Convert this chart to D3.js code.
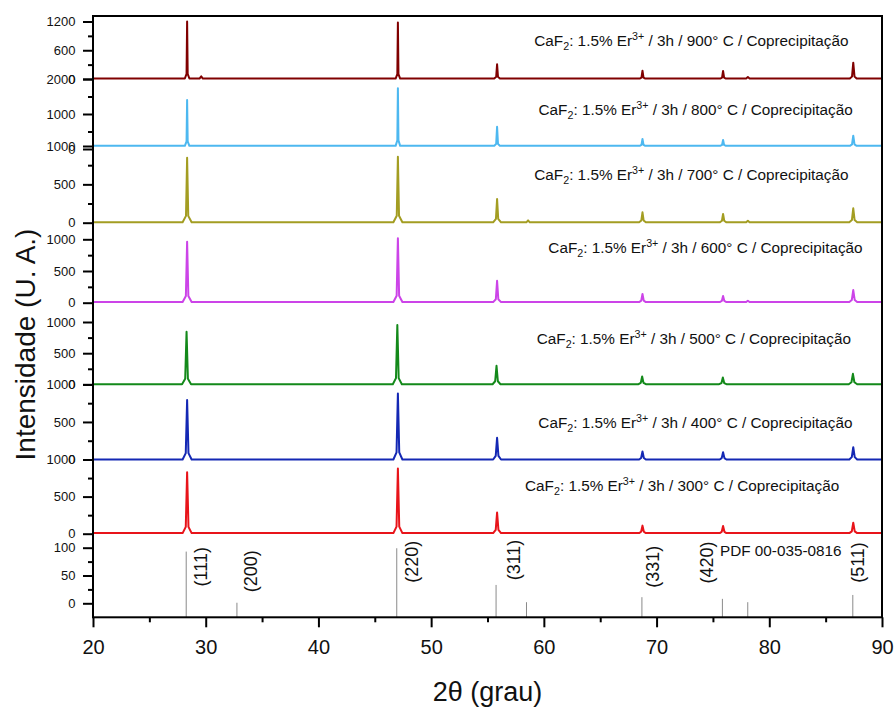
<!DOCTYPE html>
<html>
<head>
<meta charset="utf-8">
<script src="https://cdn.jsdelivr.net/npm/d3@7"></script>
<style>
  html, body { margin: 0; padding: 0; background: #fff; }
  svg { display: block; font-family: "Liberation Sans", Arial, Helvetica, sans-serif; }
</style>
</head>
<body>
<svg id="chart" width="895" height="707"></svg>
<script>
// ---------------------------------------------------------------------------
// Data: XRD patterns of CaF2:1.5% Er3+ (3 h, coprecipitation) calcined at
// different temperatures. Each pattern is a list of [2θ (deg), counts].
// ---------------------------------------------------------------------------
const temperatures = ["900", "800", "700", "600", "500", "400", "300"];

const pattern900 = [
  [20, 10],
  [28.15, 10], [28.30, 105], [28.35, 1198], [28.40, 105], [28.55, 10],
  [29.45, 10], [29.60, 55], [29.75, 10],
  [46.85, 10], [47.00, 103], [47.05, 1177], [47.10, 103], [47.25, 10],
  [55.60, 10], [55.77, 45], [55.85, 307], [55.93, 45], [56.10, 10],
  [68.50, 10], [68.66, 30], [68.75, 173], [68.84, 30], [69.00, 10],
  [75.65, 10], [75.81, 30], [75.90, 167], [75.99, 30], [76.15, 10],
  [77.95, 10], [78.10, 40], [78.25, 10],
  [87.15, 10], [87.34, 50], [87.45, 341], [87.56, 50], [87.75, 10],
  [90, 10]
];

const pattern800 = [
  [20, 90],
  [28.15, 90], [28.30, 220], [28.35, 1400], [28.40, 220], [28.55, 90],
  [46.85, 90], [47.00, 250], [47.05, 1734], [47.10, 250], [47.25, 90],
  [55.60, 90], [55.77, 150], [55.85, 637], [55.93, 150], [56.10, 90],
  [68.50, 90], [68.66, 120], [68.75, 286], [68.84, 120], [69.00, 90],
  [75.65, 90], [75.81, 115], [75.90, 257], [75.99, 115], [76.15, 90],
  [87.15, 90], [87.34, 130], [87.45, 380], [87.56, 130], [87.75, 90],
  [90, 90]
];

const pattern700 = [
  [20, 5],
  [27.95, 5], [28.25, 89], [28.35, 847], [28.45, 89], [28.75, 5],
  [46.65, 5], [46.95, 90], [47.05, 860], [47.15, 90], [47.45, 5],
  [55.50, 5], [55.75, 50], [55.85, 309], [55.95, 50], [56.20, 5],
  [58.45, 5], [58.60, 30], [58.75, 5],
  [68.45, 5], [68.65, 30], [68.75, 136], [68.85, 30], [69.05, 5],
  [75.60, 5], [75.80, 25], [75.90, 113], [76.00, 25], [76.20, 5],
  [77.95, 5], [78.10, 25], [78.25, 5],
  [87.10, 5], [87.33, 35], [87.45, 188], [87.57, 35], [87.80, 5],
  [90, 5]
];

const pattern600 = [
  [20, 10],
  [27.95, 10], [28.24, 105], [28.35, 962], [28.46, 105], [28.75, 10],
  [46.65, 10], [46.94, 110], [47.05, 1016], [47.16, 110], [47.45, 10],
  [55.50, 10], [55.74, 55], [55.85, 347], [55.96, 55], [56.20, 10],
  [68.45, 10], [68.64, 32], [68.75, 137], [68.86, 32], [69.05, 10],
  [75.60, 10], [75.79, 28], [75.90, 106], [76.01, 28], [76.20, 10],
  [77.95, 10], [78.10, 30], [78.25, 10],
  [87.10, 10], [87.32, 42], [87.45, 200], [87.58, 42], [87.80, 10],
  [90, 10]
];

const pattern500 = [
  [20, 3],
  [27.90, 3], [28.18, 90], [28.30, 845], [28.42, 90], [28.70, 3],
  [46.60, 3], [46.88, 100], [47.00, 952], [47.12, 100], [47.40, 3],
  [55.45, 3], [55.68, 50], [55.80, 297], [55.92, 50], [56.15, 3],
  [68.40, 3], [68.60, 25], [68.72, 126], [68.84, 25], [69.05, 3],
  [75.55, 3], [75.76, 22], [75.88, 110], [76.00, 22], [76.20, 3],
  [87.05, 3], [87.29, 35], [87.42, 169], [87.55, 35], [87.80, 3],
  [90, 3]
];

const pattern400 = [
  [20, 0],
  [27.95, 0], [28.23, 85], [28.35, 792], [28.47, 85], [28.75, 0],
  [46.65, 0], [46.93, 95], [47.05, 879], [47.17, 95], [47.45, 0],
  [55.50, 0], [55.73, 48], [55.85, 288], [55.97, 48], [56.20, 0],
  [68.45, 0], [68.63, 20], [68.75, 106], [68.87, 20], [69.05, 0],
  [75.60, 0], [75.78, 18], [75.90, 97], [76.02, 18], [76.20, 0],
  [87.10, 0], [87.32, 32], [87.45, 163], [87.58, 32], [87.80, 0],
  [90, 0]
];

const pattern300 = [
  [20, 8],
  [27.95, 8], [28.23, 92], [28.35, 828], [28.47, 92], [28.75, 8],
  [46.65, 8], [46.93, 96], [47.05, 878], [47.17, 96], [47.45, 8],
  [55.50, 8], [55.73, 52], [55.85, 285], [55.97, 52], [56.20, 8],
  [68.45, 8], [68.63, 26], [68.75, 109], [68.87, 26], [69.05, 8],
  [75.60, 8], [75.78, 25], [75.90, 104], [76.02, 25], [76.20, 8],
  [87.10, 8], [87.32, 32], [87.45, 149], [87.58, 32], [87.80, 8],
  [90, 8]
];

const patterns = [pattern900, pattern800, pattern700, pattern600, pattern500, pattern400, pattern300];

// Reference card PDF 00-035-0816 (CaF2): line positions and relative intensities
const pdfCard = "PDF 00-035-0816";
const pdfTwoTheta  = [28.27, 32.77, 46.95, 55.76, 58.46, 68.70, 75.84, 78.09, 87.41];
const pdfIntensity = [93, 1, 99, 33, 2, 11, 8, 2, 15];
const hklLabels = ["(111)", "(200)", "(220)", "(311)", "(331)", "(420)", "(511)"];

// Axis ticks
const xMajorTicks = [20, 30, 40, 50, 60, 70, 80, 90];
const xMinorTicks = [25, 35, 45, 55, 65, 75, 85];
const yMajorTicks = [
  [0, 600, 1200], [0, 1000, 2000], [0, 500, 1000], [0, 500, 1000],
  [0, 500, 1000], [0, 500, 1000], [0, 500, 1000], [0, 50, 100]
];
const yMinorTicks = [
  [300, 900], [500, 1500], [250, 750], [250, 750],
  [250, 750], [250, 750], [250, 750], [25, 75]
];

// ---------------------------------------------------------------------------
// Layout and styling
// ---------------------------------------------------------------------------
const colors = ["#800000", "#4db8f0", "#a39d22", "#cc44e8", "#13891a", "#1428b4", "#e8141a"];
const plot = { left: 93, right: 882, top: 16, bottom: 617.3 };

// stacked layers: value domain -> pixel range (bottom, top)
const layerDomains = [
  [0, 1200], [0, 2000], [0, 1000], [0, 1000], [0, 1000], [0, 1000], [0, 1000], [0, 100]
];
const layerRanges = [
  [79, 21.5], [149, 79], [222.7, 146], [302.7, 239.3],
  [384.4, 322], [459.5, 384.4], [533.7, 459.5], [603.3, 547.7]
];

// caption anchors [2θ, counts of the layer] (text start, baseline)
const captionAnchor = [
  [59.15, 689], [59.53, 971], [59.15, 557], [60.40, 784],
  [59.37, 647], [59.51, 419], [58.33, 575]
];
// hkl label centres [2θ, relative intensity] in the reference layer
const hklAnchor = [
  [29.74, 65.8], [34.17, 57.6], [48.46, 74.8], [57.51, 77.9],
  [69.82, 65.8], [74.58, 73.4], [88.03, 73.4]
];
const cardAnchor = [75.63, 84.2];

// ---------------------------------------------------------------------------
// Drawing
// ---------------------------------------------------------------------------
const svg = d3.select("#chart");

const x = d3.scaleLinear().domain([20, 90]).range([plot.left, plot.right]);
const y = layerDomains.map((d, i) => d3.scaleLinear().domain(d).range(layerRanges[i]));

// diffraction patterns
patterns.forEach((p, i) => {
  const line = d3.line().x(d => x(d[0])).y(d => y[i](d[1]));
  svg.append("path")
    .datum(p)
    .attr("d", line)
    .attr("fill", "none")
    .attr("stroke", colors[i])
    .attr("stroke-width", 2)
    .attr("stroke-linejoin", "round");
});

// reference card drop lines
const yRef = y[7];
svg.append("g").selectAll("line")
  .data(pdfTwoTheta.map((t, i) => [t, pdfIntensity[i]]))
  .join("line")
  .attr("x1", d => x(d[0])).attr("x2", d => x(d[0]))
  .attr("y1", plot.bottom).attr("y2", d => yRef(d[1]))
  .attr("stroke", "#8a8a8a")
  .attr("stroke-width", 1);

// hkl labels
svg.append("g").selectAll("text")
  .data(hklLabels)
  .join("text")
  .attr("transform", (d, i) => `translate(${x(hklAnchor[i][0])},${yRef(hklAnchor[i][1])}) rotate(-90)`)
  .attr("dy", "0.26em")
  .attr("text-anchor", "middle")
  .attr("font-size", 18)
  .attr("fill", "#111")
  .text(d => d);

svg.append("text")
  .attr("x", x(cardAnchor[0]))
  .attr("y", yRef(cardAnchor[1]))
  .attr("font-size", 15.3)
  .attr("fill", "#111")
  .text(pdfCard);

// captions for each pattern
temperatures.forEach((t, i) => {
  const txt = svg.append("text")
    .attr("x", x(captionAnchor[i][0]))
    .attr("y", y[i](captionAnchor[i][1]))
    .attr("font-size", 15.3)
    .attr("fill", "#111");
  txt.append("tspan").text("CaF");
  txt.append("tspan").attr("font-size", 10.7).attr("dy", 4).text("2");
  txt.append("tspan").attr("dy", -4).text(": 1.5% Er");
  txt.append("tspan").attr("font-size", 10.7).attr("dy", -6).text("3+");
  txt.append("tspan").attr("dy", 6).text(` / 3h / ${t}\u00B0 C / Coprecipita\u00E7\u00E3o`);
});

// left axes, one per layer
y.forEach((sc, i) => {
  const gMaj = svg.append("g")
    .attr("transform", `translate(${plot.left},0)`)
    .call(d3.axisLeft(sc).tickValues(yMajorTicks[i]).tickSize(10).tickPadding(7.5).tickFormat(d3.format("d")));
  gMaj.select(".domain").remove();
  gMaj.selectAll(".tick line").attr("stroke", "#000").attr("stroke-width", 2);
  gMaj.selectAll(".tick text").attr("font-size", 13).attr("fill", "#111")
    .attr("font-family", "'Liberation Sans', Arial, sans-serif");

  const gMin = svg.append("g")
    .attr("transform", `translate(${plot.left},0)`)
    .call(d3.axisLeft(sc).tickValues(yMinorTicks[i]).tickSize(5).tickFormat(""));
  gMin.select(".domain").remove();
  gMin.selectAll(".tick line").attr("stroke", "#000").attr("stroke-width", 2);
});

// bottom axis
const gx = svg.append("g")
  .attr("transform", `translate(0,${plot.bottom})`)
  .call(d3.axisBottom(x).tickValues(xMajorTicks).tickSize(10).tickPadding(12.7).tickFormat(d3.format("d")));
gx.select(".domain").remove();
gx.selectAll(".tick line").attr("stroke", "#000").attr("stroke-width", 2);
gx.selectAll(".tick text").attr("font-size", 20).attr("fill", "#111")
  .attr("font-family", "'Liberation Sans', Arial, sans-serif");

const gxm = svg.append("g")
  .attr("transform", `translate(0,${plot.bottom})`)
  .call(d3.axisBottom(x).tickValues(xMinorTicks).tickSize(5).tickFormat(""));
gxm.select(".domain").remove();
gxm.selectAll(".tick line").attr("stroke", "#000").attr("stroke-width", 2);

// frame
svg.append("rect")
  .attr("x", plot.left).attr("y", plot.top)
  .attr("width", plot.right - plot.left).attr("height", plot.bottom - plot.top)
  .attr("fill", "none").attr("stroke", "#000").attr("stroke-width", 2);

// axis titles
svg.append("text")
  .attr("x", (plot.left + plot.right) / 2)
  .attr("y", 701)
  .attr("text-anchor", "middle")
  .attr("font-size", 27)
  .attr("fill", "#111")
  .text("2\u03B8 (grau)");

svg.append("text")
  .attr("transform", "translate(35,344.5) rotate(-90)")
  .attr("text-anchor", "middle")
  .attr("font-size", 28)
  .attr("fill", "#111")
  .text("Intensidade (U. A.)");
</script>
</body>
</html>
